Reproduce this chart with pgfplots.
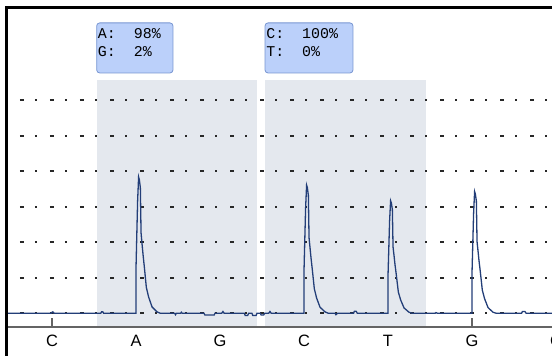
\documentclass[border=0pt]{standalone}
\usepackage{pgfplots}
\pgfplotsset{compat=1.18}
\usepackage{fontspec}
\setmainfont{Liberation Sans}
\newfontfamily\monofont{Liberation Mono}
\definecolor{tracec}{RGB}{35,62,120}
\definecolor{shadec}{RGB}{228,232,238}
\definecolor{boxfill}{RGB}{187,208,250}
\definecolor{boxdraw}{RGB}{120,150,210}
\definecolor{gridc}{RGB}{40,40,40}
\definecolor{axisc}{RGB}{100,100,100}
\begin{document}
\begin{tikzpicture}
\begin{axis}[
  name=ax,
  scale only axis,
  width=545.5bp, height=319.5bp,
  xmin=0.4583, xmax=6.9524,
  ymin=-0.386, ymax=8.614,
  axis line style={draw=none},
  xtick={1,2,3,4,5,6},
  xticklabels={C,A,G,C,T,G},
  ytick=\empty,
  xtick pos=left,
  tick align=inside,
  major tick length=9bp,
  x tick style={axisc, line width=1.3bp},
  xticklabel style={font=\fontsize{16.5}{18}\selectfont, anchor=base, yshift=-20bp, text=black},
  clip mode=individual,
]
\fill[shadec] (axis cs:1.532,-0.386) rectangle (axis cs:3.437,6.57);
\fill[shadec] (axis cs:3.536,-0.386) rectangle (axis cs:5.452,6.57);
\pgfplotsinvokeforeach{0,...,6}{
  \draw[gridc, line width=1.6bp, dash pattern=on 4bp off 11bp on 2bp off 13bp] (axis cs:0.619,#1) -- (axis cs:6.9524,#1);
}
\addplot[tracec, line width=1.3bp, no markers] coordinates {
(0.40,0) (0.99,0) (1.00,0.03) (1.01,0.04) (1.025,0) (1.58,0) (1.59,0.04) (1.605,0.04) (1.615,0)
(2.0,0)
(2.0,1.27) (2.019,3.15) (2.031,3.84) (2.040,3.76) (2.052,3.53) (2.060,2.27) (2.072,1.95) (2.084,1.65) (2.099,1.31) (2.123,0.73) (2.150,0.46) (2.191,0.18) (2.25,0.04) (2.29,0)
(2.46,0) (2.47,-0.04) (2.48,0) (2.53,0) (2.54,0.03) (2.55,0) (2.81,0) (2.82,-0.05) (2.93,-0.05) (2.94,0) (3.02,0) (3.035,0.05) (3.05,0) (3.29,0) (3.30,-0.06) (3.33,-0.06) (3.34,0) (3.38,0) (3.39,-0.06) (3.43,-0.06) (3.44,0) (3.48,0) (3.49,-0.05) (3.52,-0.05) (3.53,0) (3.58,0) (3.595,0.05) (3.61,0)
(4.0,0)
(4.0,1.19) (4.019,2.96) (4.031,3.61) (4.040,3.54) (4.052,3.32) (4.060,2.13) (4.072,1.84) (4.084,1.55) (4.099,1.23) (4.123,0.69) (4.150,0.43) (4.191,0.17) (4.25,0.04) (4.29,0)
(4.37,0) (4.38,-0.04) (4.40,0) (4.59,0) (4.60,0.06) (4.62,0.06) (4.635,0)
(5.0,0)
(5.0,1.05) (5.019,2.60) (5.031,3.17) (5.040,3.11) (5.052,2.92) (5.060,1.87) (5.072,1.62) (5.084,1.36) (5.099,1.08) (5.123,0.60) (5.150,0.38) (5.191,0.15) (5.25,0.03) (5.29,0)
(5.56,0) (5.57,0.02) (5.59,0)
(6.0,0)
(6.0,1.13) (6.019,2.81) (6.031,3.43) (6.040,3.36) (6.052,3.16) (6.060,2.02) (6.072,1.75) (6.084,1.47) (6.099,1.17) (6.123,0.65) (6.150,0.41) (6.191,0.16) (6.25,0.03) (6.29,0)
(6.59,0) (6.60,0.05) (6.63,0.05) (6.645,0) (7.0,0)
};
\draw[boxdraw, fill=boxfill, rounded corners=3bp, line width=0.8bp] (axis cs:1.532,6.77) rectangle (axis cs:2.440,8.18);
\draw[boxdraw, fill=boxfill, rounded corners=3bp, line width=0.8bp] (axis cs:3.536,6.77) rectangle (axis cs:4.583,8.18);
\node[anchor=base west, inner sep=0, font=\monofont\fontsize{15}{18}\selectfont] at (axis cs:1.545,7.735) {A:~~98\%};
\node[anchor=base west, inner sep=0, font=\monofont\fontsize{15}{18}\selectfont] at (axis cs:1.545,7.22) {G:~~2\%};
\node[anchor=base west, inner sep=0, font=\monofont\fontsize{15}{18}\selectfont] at (axis cs:3.549,7.735) {C:~~100\%};
\node[anchor=base west, inner sep=0, font=\monofont\fontsize{15}{18}\selectfont] at (axis cs:3.549,7.22) {T:~~0\%};
\end{axis}
\draw[axisc, line width=1.5bp] (ax.south west) -- ([xshift=2bp]ax.south east);
\draw[black, line width=2.3bp] ([yshift=-32bp]ax.south west) -- (ax.north west) -- ([xshift=2bp]ax.north east);
\node[font=\fontsize{16.5}{18}\selectfont, anchor=base] at ([xshift=4bp,yshift=-20bp]ax.south east) {C};
\pgfresetboundingbox
\path ([xshift=-6.5bp,yshift=-29bp]ax.south west) rectangle ([yshift=7.5bp]ax.north east);
\end{tikzpicture}
\end{document}
